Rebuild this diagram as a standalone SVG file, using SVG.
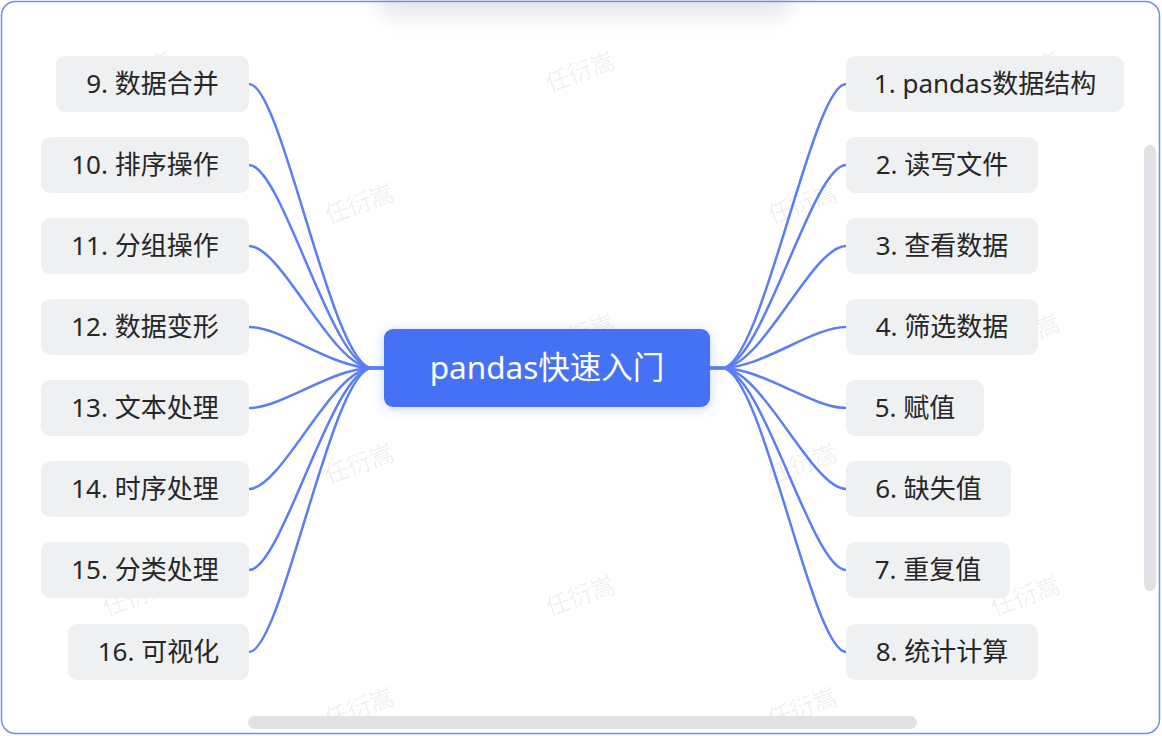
<svg xmlns="http://www.w3.org/2000/svg" width="1162" height="736" viewBox="0 0 1162 736">
<defs>
<style>
.leaf rect{fill:#eef0f2}
.leaf text{font-family:"Noto Sans","Noto Sans CJK SC",sans-serif;font-size:26px;fill:#262626;text-anchor:middle}
.edge{fill:none;stroke:#5a7ff5;stroke-width:2.5;stroke-linecap:round}
.wm{font-family:"Noto Sans CJK SC",sans-serif;font-size:24px;fill:#000;fill-opacity:0.07;text-anchor:middle}
.bar{fill:#e1e2e6}
</style>
<filter id="rootShadow" x="-20%" y="-40%" width="140%" height="180%">
<feDropShadow dx="0" dy="2" stdDeviation="6" flood-color="#4571f5" flood-opacity="0.3"/>
</filter>
<filter id="topBlur" x="-20%" y="-100%" width="140%" height="300%">
<feGaussianBlur stdDeviation="10"/>
</filter>
</defs>
<rect x="0" y="0" width="1162" height="736" fill="#ffffff"/>
<rect x="375" y="-40" width="420" height="58" rx="25" fill="#000" fill-opacity="0.09" filter="url(#topBlur)"/>
<rect x="1.5" y="1.5" width="1158" height="732" rx="14" fill="none" stroke="#6f8ff0" stroke-width="1.5"/>

<g id="watermarks">
<text class="wm" transform="translate(583,80) rotate(-20)">任衍嵩</text>
<text class="wm" transform="translate(140,80) rotate(-20)">任衍嵩</text>
<text class="wm" transform="translate(1028,80) rotate(-20)">任衍嵩</text>
<text class="wm" transform="translate(362,212) rotate(-20)">任衍嵩</text>
<text class="wm" transform="translate(805,212) rotate(-20)">任衍嵩</text>
<text class="wm" transform="translate(140,342) rotate(-20)">任衍嵩</text>
<text class="wm" transform="translate(583,342) rotate(-20)">任衍嵩</text>
<text class="wm" transform="translate(1028,342) rotate(-20)">任衍嵩</text>
<text class="wm" transform="translate(362,472) rotate(-20)">任衍嵩</text>
<text class="wm" transform="translate(805,472) rotate(-20)">任衍嵩</text>
<text class="wm" transform="translate(140,604) rotate(-20)">任衍嵩</text>
<text class="wm" transform="translate(583,604) rotate(-20)">任衍嵩</text>
<text class="wm" transform="translate(1028,604) rotate(-20)">任衍嵩</text>
<text class="wm" transform="translate(362,716) rotate(-20)">任衍嵩</text>
<text class="wm" transform="translate(805,716) rotate(-20)">任衍嵩</text>
</g>

<g id="connectors">
<path class="edge" d="M249 84 C282 84 332 368 372 368 L384 368"/>
<path class="edge" d="M249 165 C282 165 332 368 372 368 L384 368"/>
<path class="edge" d="M249 246 C282 246 332 368 372 368 L384 368"/>
<path class="edge" d="M249 327 C282 327 332 368 372 368 L384 368"/>
<path class="edge" d="M249 408 C282 408 332 368 372 368 L384 368"/>
<path class="edge" d="M249 489 C282 489 332 368 372 368 L384 368"/>
<path class="edge" d="M249 570 C282 570 332 368 372 368 L384 368"/>
<path class="edge" d="M249 652 C282 652 332 368 372 368 L384 368"/>
<path class="edge" d="M710 368 L722 368 C762 368 812 84 846 84"/>
<path class="edge" d="M710 368 L722 368 C762 368 812 165 846 165"/>
<path class="edge" d="M710 368 L722 368 C762 368 812 246 846 246"/>
<path class="edge" d="M710 368 L722 368 C762 368 812 327 846 327"/>
<path class="edge" d="M710 368 L722 368 C762 368 812 408 846 408"/>
<path class="edge" d="M710 368 L722 368 C762 368 812 489 846 489"/>
<path class="edge" d="M710 368 L722 368 C762 368 812 570 846 570"/>
<path class="edge" d="M710 368 L722 368 C762 368 812 652 846 652"/>
</g>

<g id="root">
<rect x="384" y="329" width="326" height="78" rx="9" fill="#4571f5" filter="url(#rootShadow)"/>
<text x="547" y="379" font-family="Noto Sans, Noto Sans CJK SC, sans-serif" font-size="31.5" fill="#ffffff" text-anchor="middle">pandas快速入门</text>
</g>

<g id="n9" class="leaf"><rect x="56" y="56" width="193" height="56" rx="9"/><text x="152.5" y="93">9. 数据合并</text></g>
<g id="n10" class="leaf"><rect x="41" y="137" width="208" height="56" rx="9"/><text x="145" y="174">10. 排序操作</text></g>
<g id="n11" class="leaf"><rect x="41" y="218" width="208" height="56" rx="9"/><text x="145" y="255">11. 分组操作</text></g>
<g id="n12" class="leaf"><rect x="41" y="299" width="208" height="56" rx="9"/><text x="145" y="336">12. 数据变形</text></g>
<g id="n13" class="leaf"><rect x="41" y="380" width="208" height="56" rx="9"/><text x="145" y="417">13. 文本处理</text></g>
<g id="n14" class="leaf"><rect x="41" y="461" width="208" height="56" rx="9"/><text x="145" y="498">14. 时序处理</text></g>
<g id="n15" class="leaf"><rect x="41" y="542" width="208" height="56" rx="9"/><text x="145" y="579">15. 分类处理</text></g>
<g id="n16" class="leaf"><rect x="68" y="624" width="181" height="56" rx="9"/><text x="158.5" y="661">16. 可视化</text></g>

<g id="n1" class="leaf"><rect x="846" y="56" width="278" height="56" rx="9"/><text x="985" y="93">1. pandas数据结构</text></g>
<g id="n2" class="leaf"><rect x="846" y="137" width="192" height="56" rx="9"/><text x="942" y="174">2. 读写文件</text></g>
<g id="n3" class="leaf"><rect x="846" y="218" width="192" height="56" rx="9"/><text x="942" y="255">3. 查看数据</text></g>
<g id="n4" class="leaf"><rect x="846" y="299" width="192" height="56" rx="9"/><text x="942" y="336">4. 筛选数据</text></g>
<g id="n5" class="leaf"><rect x="846" y="380" width="138" height="56" rx="9"/><text x="915" y="417">5. 赋值</text></g>
<g id="n6" class="leaf"><rect x="846" y="461" width="165" height="56" rx="9"/><text x="928.5" y="498">6. 缺失值</text></g>
<g id="n7" class="leaf"><rect x="846" y="542" width="164" height="56" rx="9"/><text x="928" y="579">7. 重复值</text></g>
<g id="n8" class="leaf"><rect x="846" y="624" width="192" height="56" rx="9"/><text x="942" y="661">8. 统计计算</text></g>

<g id="scrollbars">
<rect class="bar" x="1144" y="145" width="12" height="446" rx="6"/>
<rect class="bar" x="248" y="716" width="669" height="13" rx="6.5"/>
</g>
</svg>
